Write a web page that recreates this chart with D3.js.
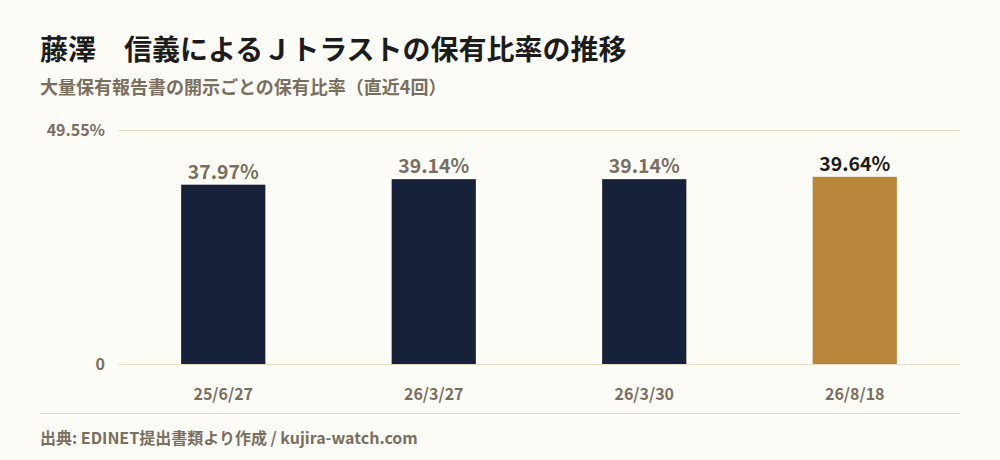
<!DOCTYPE html>
<html>
<head>
<meta charset="utf-8">
<script src="https://cdn.jsdelivr.net/npm/d3@7"></script>
<style>
  html, body { margin: 0; padding: 0; background: #fdfcf7; }
  svg text { font-family: "Noto Sans CJK JP", "Noto Sans", sans-serif; font-weight: 700; }
</style>
</head>
<body>
<div id="chart"></div>
<script>
// data
var dates = ["25/6/27", "26/3/27", "26/3/30", "26/8/18"];
var ratios = [37.97, 39.14, 39.14, 39.64];
var yTicks = [0, 49.55];

var w = 1000, h = 460;
var margin = {top: 130, right: 40, bottom: 96, left: 118},
    width = w - margin.left - margin.right,
    height = h - margin.top - margin.bottom;

var svg = d3.select("#chart")
  .append("svg")
  .attr("width", w)
  .attr("height", h);

svg.append("rect").attr("width", w).attr("height", h).attr("fill", "#fdfcf7");

// titles
svg.append("text")
  .attr("x", 40).attr("y", 60)
  .attr("font-size", 28)
  .attr("fill", "#1c1c1c")
  .text("藤澤　信義によるＪトラストの保有比率の推移");

svg.append("text")
  .attr("x", 40).attr("y", 94)
  .attr("font-size", 18)
  .attr("fill", "#7a6f5f")
  .text("大量保有報告書の開示ごとの保有比率（直近4回）");

var g = svg.append("g")
  .attr("transform", "translate(" + margin.left + "," + margin.top + ")");

var x = d3.scaleBand()
  .domain(dates)
  .range([0, width])
  .paddingInner(0.6)
  .paddingOuter(0.3);

var y = d3.scaleLinear()
  .domain([0, d3.max(yTicks)])
  .range([height, 0]);

// gridlines + y labels
var yAxis = g.append("g")
  .call(d3.axisLeft(y).tickValues(yTicks).tickSize(-width).tickPadding(13)
    .tickFormat(function(d) { return d === 0 ? "0" : d + "%"; }));
yAxis.select(".domain").remove();
yAxis.selectAll("line").attr("stroke", "#e8dcc6").attr("stroke-width", 1);
yAxis.selectAll("text")
  .attr("font-size", 16)
  .attr("fill", "#7a6f5f")
  .style("font-family", null);

// bars
g.selectAll(".bar")
  .data(ratios)
  .enter()
  .append("rect")
    .attr("x", function(d, i) { return x(dates[i]); })
    .attr("y", function(d) { return y(d); })
    .attr("width", x.bandwidth())
    .attr("height", function(d) { return height - y(d); })
    .attr("fill", function(d, i) { return i === ratios.length - 1 ? "#b8863b" : "#17223a"; });

// value labels
g.selectAll(".val")
  .data(ratios)
  .enter()
  .append("text")
    .attr("x", function(d, i) { return x(dates[i]) + x.bandwidth() / 2; })
    .attr("y", function(d) { return y(d) - 6; })
    .attr("text-anchor", "middle")
    .attr("font-size", 19.5)
    .attr("fill", function(d, i) { return i === ratios.length - 1 ? "#1c1c1c" : "#7a6f5f"; })
    .text(function(d) { return d.toFixed(2) + "%"; });

// x axis labels
var xAxis = g.append("g")
  .attr("transform", "translate(0," + height + ")")
  .call(d3.axisBottom(x).tickSize(0).tickPadding(25));
xAxis.select(".domain").remove();
xAxis.selectAll("text")
  .attr("font-size", 16)
  .attr("fill", "#7a6f5f")
  .style("font-family", null);

// footer
svg.append("line")
  .attr("x1", 40).attr("x2", 960)
  .attr("y1", 413.5).attr("y2", 413.5)
  .attr("stroke", "#e8dcc6");

svg.append("text")
  .attr("x", 40).attr("y", 444)
  .attr("font-size", 16)
  .attr("fill", "#7a6f5f")
  .text("出典: EDINET提出書類より作成 / kujira-watch.com");
</script>
</body>
</html>
